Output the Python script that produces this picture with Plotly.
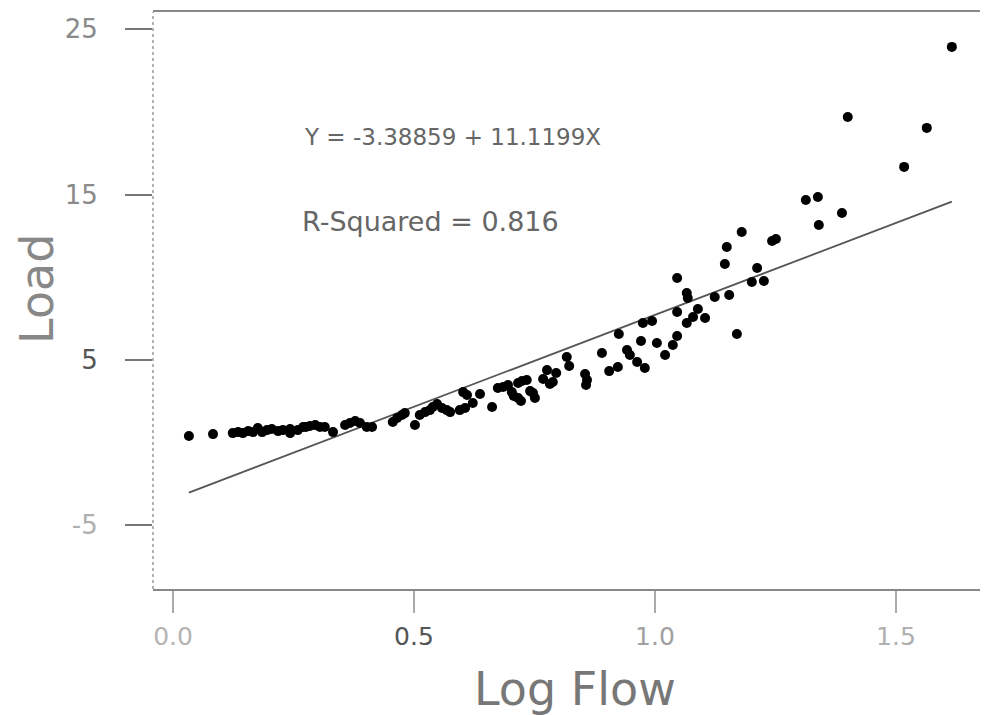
import plotly.graph_objects as go

# Data
log_flow = [0.033, 0.083, 0.124, 0.135, 0.145, 0.156, 0.166, 0.176, 0.185, 0.195,
            0.205, 0.218, 0.228, 0.243, 0.243, 0.259, 0.270, 0.276, 0.284, 0.295,
            0.305, 0.315, 0.332, 0.357, 0.367, 0.378, 0.388, 0.402, 0.413, 0.456,
            0.465, 0.475, 0.481, 0.502, 0.512, 0.523, 0.533, 0.539, 0.548, 0.558,
            0.568, 0.575, 0.595, 0.606, 0.602, 0.610, 0.622, 0.637, 0.662, 0.674,
            0.685, 0.695, 0.703, 0.707, 0.716, 0.722, 0.716, 0.724, 0.734, 0.741,
            0.747, 0.751, 0.768, 0.776, 0.782, 0.788, 0.795, 0.817, 0.822, 0.855,
            0.859, 0.857, 0.890, 0.905, 0.923, 0.925, 0.942, 0.948, 0.963, 0.979,
            0.971, 0.975, 0.994, 1.004, 1.021, 1.037, 1.046, 1.046, 1.046, 1.066,
            1.068, 1.066, 1.079, 1.089, 1.104, 1.124, 1.145, 1.149, 1.154, 1.170,
            1.180, 1.201, 1.212, 1.226, 1.243, 1.251, 1.313, 1.338, 1.340, 1.388,
            1.400, 1.517, 1.564, 1.616]
load = [0.40, 0.52, 0.58, 0.64, 0.58, 0.70, 0.64, 0.89, 0.64, 0.76,
        0.83, 0.70, 0.76, 0.58, 0.83, 0.76, 0.95, 0.95, 1.01, 1.07,
        0.95, 0.95, 0.64, 1.07, 1.19, 1.31, 1.19, 0.95, 0.95, 1.25,
        1.49, 1.67, 1.79, 1.07, 1.67, 1.85, 1.97, 2.16, 2.34, 2.10,
        1.97, 1.85, 1.97, 2.10, 3.06, 2.88, 2.40, 2.94, 2.16, 3.31,
        3.37, 3.49, 3.06, 2.82, 2.70, 2.52, 3.61, 3.73, 3.79, 3.12,
        3.00, 2.70, 3.85, 4.39, 3.55, 3.67, 4.21, 5.18, 4.64, 4.15,
        3.79, 3.49, 5.42, 4.33, 4.58, 6.57, 5.61, 5.30, 4.88, 4.52,
        6.15, 7.24, 7.36, 6.03, 5.30, 5.91, 6.45, 7.90, 9.96, 9.05,
        8.75, 7.24, 7.60, 8.09, 7.54, 8.81, 10.81, 11.84, 8.93, 6.57,
        12.74, 9.72, 10.57, 9.78, 12.20, 12.32, 14.68, 14.86, 13.17, 13.89,
        19.70, 16.68, 19.04, 23.94]

intercept = -3.38859
slope = 11.1199
r_squared = 0.816

x_ticks = [0.0, 0.5, 1.0, 1.5]
x_tick_labels = ["0.0", "0.5", "1.0", "1.5"]
y_ticks = [25, 15, 5, -5]
y_tick_labels = ["25", "15", "5", "-5"]

x_fit = [min(log_flow), max(log_flow)]
y_fit = [intercept + slope * v for v in x_fit]

fig = go.Figure()
fig.add_trace(go.Scatter(x=x_fit, y=y_fit, mode="lines",
                         line=dict(color="#555555", width=1.8), hoverinfo="skip"))
fig.add_trace(go.Scatter(x=log_flow, y=load, mode="markers",
                         marker=dict(color="black", size=10, line=dict(width=0))))

x_colors = ["#b5b5b5", "#555555", "#a0a0a0", "#b0b0b0"]
y_colors = ["#8a8a8a", "#8a8a8a", "#555555", "#b0b0b0"]

fig.update_layout(
    width=980, height=707,
    margin=dict(l=145, r=0, t=4, b=126),
    plot_bgcolor="white", paper_bgcolor="white",
    showlegend=False,
    font=dict(family="DejaVu Sans", color="#777777"),
    xaxis=dict(
        range=[-0.0415, 1.691],
        tickvals=x_ticks,
        ticktext=[f'<span style="color:{c}">{t}</span>' for t, c in zip(x_tick_labels, x_colors)],
        ticks="outside", ticklen=22, tickwidth=1.5, tickcolor="#aaaaaa",
        tickfont=dict(size=25, family="DejaVu Sans"),
        ticklabelstandoff=2,
        showline=True, linecolor="#888888", linewidth=1.5, mirror=True,
        showgrid=False, zeroline=False,
    ),
    yaxis=dict(
        range=[-8.85, 26.05],
        tickvals=y_ticks,
        ticktext=[f'<span style="color:{c}">{t}</span>' for t, c in zip(y_tick_labels, y_colors)],
        ticks="outside", ticklen=27, tickwidth=1.5, tickcolor="#777777",
        tickfont=dict(size=26, family="DejaVu Sans"),
        ticklabelstandoff=22,
        showline=False, showgrid=False, zeroline=False,
    ),
    shapes=[dict(type="line", xref="paper", yref="paper", x0=0, x1=0, y0=0, y1=1,
                 line=dict(color="#999999", width=1.5, dash="dot"))],
    annotations=[
        dict(text=f"Y = {intercept} + {slope}X", x=0.268, y=18.5, xref="x", yref="y",
             xanchor="left", yanchor="middle", showarrow=False,
             font=dict(size=23, color="#666666", family="DejaVu Sans")),
        dict(text=f"R-Squared = {r_squared}", x=0.263, y=13.4, xref="x", yref="y",
             xanchor="left", yanchor="middle", showarrow=False,
             font=dict(size=27, color="#666666", family="DejaVu Sans")),
        dict(text="Log Flow", x=0.505, y=-0.173, xref="paper", yref="paper",
             xanchor="center", yanchor="middle", showarrow=False,
             font=dict(size=46, color="#777777", family="DejaVu Sans")),
        dict(text="Load", x=-0.139, y=0.52, xref="paper", yref="paper",
             xanchor="center", yanchor="middle", showarrow=False, textangle=-90,
             font=dict(size=46, color="#888888", family="DejaVu Sans")),
    ],
)

fig.write_html("out.html")
